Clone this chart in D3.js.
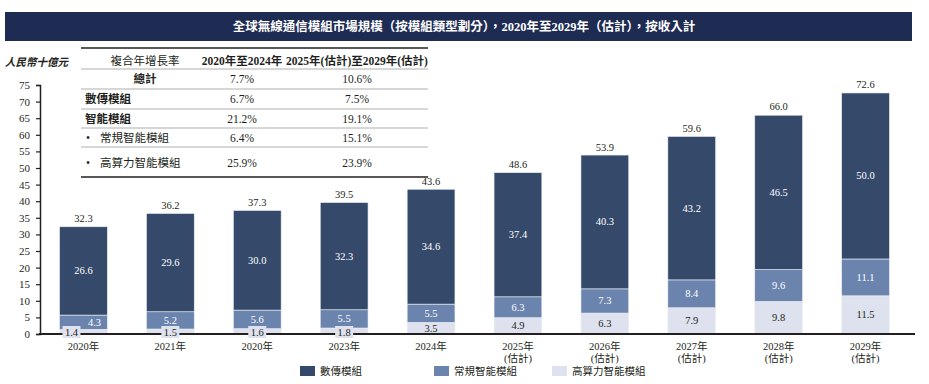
<!DOCTYPE html>
<html>
<head>
<meta charset="utf-8">
<script src="https://cdn.jsdelivr.net/npm/d3@7"></script>
<style>
  body { margin: 0; background: #fff; }
  svg text { font-family: "Liberation Serif", "Noto Sans CJK TC", serif; fill: #231f20; }
</style>
</head>
<body>
<svg id="chart" width="929" height="384"></svg>
<script>
const titleText = "全球無線通信模組市場規模（按模組類型劃分），2020年至2029年（估計），按收入計";
const unitLabel = "人民幣十億元";
const years = ["2020年", "2021年", "2020年", "2023年", "2024年", "2025年", "2026年", "2027年", "2028年", "2029年"];
const estimated = [false, false, false, false, false, true, true, true, true, true];
const seriesNames = ["數傳模組", "常規智能模組", "高算力智能模組"];
const dataTransfer = [26.6, 29.6, 30.0, 32.3, 34.6, 37.4, 40.3, 43.2, 46.5, 50.0];
const regularSmart = [4.3, 5.2, 5.6, 5.5, 5.5, 6.3, 7.3, 8.4, 9.6, 11.1];
const highCompute = [1.4, 1.5, 1.6, 1.8, 3.5, 4.9, 6.3, 7.9, 9.8, 11.5];
const totals = [32.3, 36.2, 37.3, 39.5, 43.6, 48.6, 53.9, 59.6, 66.0, 72.6];
const yTicks = d3.range(0, 76, 5);

const cagrHeader = ["複合年增長率", "2020年至2024年", "2025年(估計)至2029年(估計)"];
const cagrRows = [
  ["總計", "7.7%", "10.6%"],
  ["數傳模組", "6.7%", "7.5%"],
  ["智能模組", "21.2%", "19.1%"],
  ["常規智能模組", "6.4%", "15.1%"],
  ["高算力智能模組", "25.9%", "23.9%"]
];

const colors = ["#354a6b", "#6b84ae", "#dde2ee"];

const svg = d3.select("#chart");

// title banner
svg.append("rect").attr("x", 5).attr("y", 12).attr("width", 907).attr("height", 29).attr("fill", "#1e2b53");
svg.append("text").attr("x", 464).attr("y", 27).attr("text-anchor", "middle")
  .attr("dominant-baseline", "central").attr("font-size", 12.5).attr("font-weight", "bold")
  .style("fill", "#fff").text(titleText);

// scales
const x = d3.scaleBand().domain(d3.range(years.length)).range([40, 909]).paddingInner(0.45).paddingOuter(0.225);
const y = d3.scaleLinear().domain([0, 75]).range([334, 85]);

// stacked bars
const rows = years.map((yr, i) => ({ i, s0: highCompute[i], s1: regularSmart[i], s2: dataTransfer[i] }));
const stack = d3.stack().keys(["s0", "s1", "s2"])(rows);
const colorOf = [colors[2], colors[1], colors[0]];

const layers = svg.append("g").selectAll("g").data(stack).join("g")
  .attr("fill", (d, k) => colorOf[k]);
layers.selectAll("rect").data(d => d).join("rect")
  .attr("x", d => x(d.data.i))
  .attr("y", d => y(d[1]))
  .attr("width", x.bandwidth())
  .attr("height", d => y(d[0]) - y(d[1]))
  .attr("stroke", "#eef1f6").attr("stroke-width", 0.6);

// axes
const yAxis = svg.append("g").attr("transform", "translate(40,0)")
  .call(d3.axisLeft(y).tickValues(yTicks).tickSize(4).tickPadding(6));
yAxis.select(".domain").attr("stroke", "#231f20").attr("stroke-width", 1.5);
yAxis.selectAll(".tick line").attr("stroke", "#231f20").attr("stroke-width", 1.2);
yAxis.selectAll(".tick text").attr("font-size", 11).attr("font-family", "Liberation Serif").style("fill", "#231f20");

svg.append("line").attr("x1", 39).attr("x2", 915).attr("y1", y(0)).attr("y2", y(0))
  .attr("stroke", "#231f20").attr("stroke-width", 2);

svg.append("text").attr("x", 5).attr("y", 62).attr("dominant-baseline", "central")
  .attr("font-size", 10.5).attr("font-weight", "bold").attr("font-style", "italic").text(unitLabel);

// value labels
const labels = svg.append("g").attr("font-size", 10.5).attr("text-anchor", "middle");
rows.forEach((r, i) => {
  const cx = x(i) + x.bandwidth() / 2;
  const small = highCompute[i] < 2;
  // dark segment
  labels.append("text").attr("x", cx).attr("y", y(highCompute[i] + regularSmart[i] + dataTransfer[i] / 2))
    .attr("dominant-baseline", "central").style("fill", "#fff").text(dataTransfer[i].toFixed(1));
  // mid segment
  labels.append("text").attr("x", cx + (i === 0 ? 11 : 0)).attr("y", y(highCompute[i] + regularSmart[i] / 2))
    .attr("dominant-baseline", "central").style("fill", "#fff").text(regularSmart[i].toFixed(1));
  // light segment
  const lx = cx + (i === 0 ? -12 : 0);
  const ly = small ? y(0) - 2 : y(highCompute[i] / 2);
  if (small) {
    labels.append("rect").attr("x", lx - 9).attr("y", ly - 6).attr("width", 18).attr("height", 12)
      .attr("fill", colors[2]);
  }
  labels.append("text").attr("x", lx).attr("y", ly).attr("dominant-baseline", "central")
    .text(highCompute[i].toFixed(1));
  // total
  labels.append("text").attr("x", cx).attr("y", y(totals[i]) - 8).attr("dominant-baseline", "central")
    .text(totals[i].toFixed(1));
});

// x labels
const xl = svg.append("g").attr("font-size", 10.5).attr("text-anchor", "middle");
years.forEach((yr, i) => {
  const cx = x(i) + x.bandwidth() / 2;
  xl.append("text").attr("x", cx).attr("y", 346).attr("dominant-baseline", "central").text(yr);
  if (estimated[i]) {
    xl.append("text").attr("x", cx).attr("y", 358).attr("dominant-baseline", "central").text("(估計)");
  }
});

// legend
const legendX = [300, 434, 552];
const legend = svg.append("g").selectAll("g").data(seriesNames).join("g")
  .attr("transform", (d, i) => `translate(${legendX[i]},366)`);
legend.append("rect").attr("width", 15).attr("height", 10).attr("fill", (d, i) => colors[i]);
legend.append("text").attr("x", 20).attr("y", 5).attr("dominant-baseline", "central")
  .attr("font-size", 10.5).text(d => d);

// CAGR table
const tbl = svg.append("g").attr("font-size", 11.5);
const lineYs = [48, 69, 89, 109, 128, 147, 177];
const rowYs = [60.5, 79, 99, 119, 138, 163];
const colX = [145, 242, 357];
lineYs.forEach((ly, k) => {
  const edge = k === 0 || k === lineYs.length - 1;
  tbl.append("line").attr("x1", 81).attr("x2", 428).attr("y1", ly).attr("y2", ly)
    .attr("stroke", edge ? "#231f20" : "#9a9a9a").attr("stroke-width", edge ? 1.6 : 0.8);
});
cagrHeader.forEach((h, c) => {
  tbl.append("text").attr("x", colX[c]).attr("y", rowYs[0]).attr("text-anchor", "middle")
    .attr("dominant-baseline", "central").attr("font-weight", c === 0 ? "normal" : "bold").text(h);
});
cagrRows.forEach((row, r) => {
  const ry = rowYs[r + 1];
  if (r === 0) {
    tbl.append("text").attr("x", colX[0]).attr("y", ry).attr("text-anchor", "middle")
      .attr("dominant-baseline", "central").attr("font-weight", "bold").text(row[0]);
  } else if (r < 3) {
    tbl.append("text").attr("x", 85).attr("y", ry).attr("dominant-baseline", "central")
      .attr("font-weight", "bold").text(row[0]);
  } else {
    tbl.append("text").attr("x", 86).attr("y", ry).attr("dominant-baseline", "central").text("•");
    tbl.append("text").attr("x", 100).attr("y", ry).attr("dominant-baseline", "central").text(row[0]);
  }
  tbl.append("text").attr("x", colX[1]).attr("y", ry).attr("text-anchor", "middle")
    .attr("dominant-baseline", "central").text(row[1]);
  tbl.append("text").attr("x", colX[2]).attr("y", ry).attr("text-anchor", "middle")
    .attr("dominant-baseline", "central").text(row[2]);
});
</script>
</body>
</html>
